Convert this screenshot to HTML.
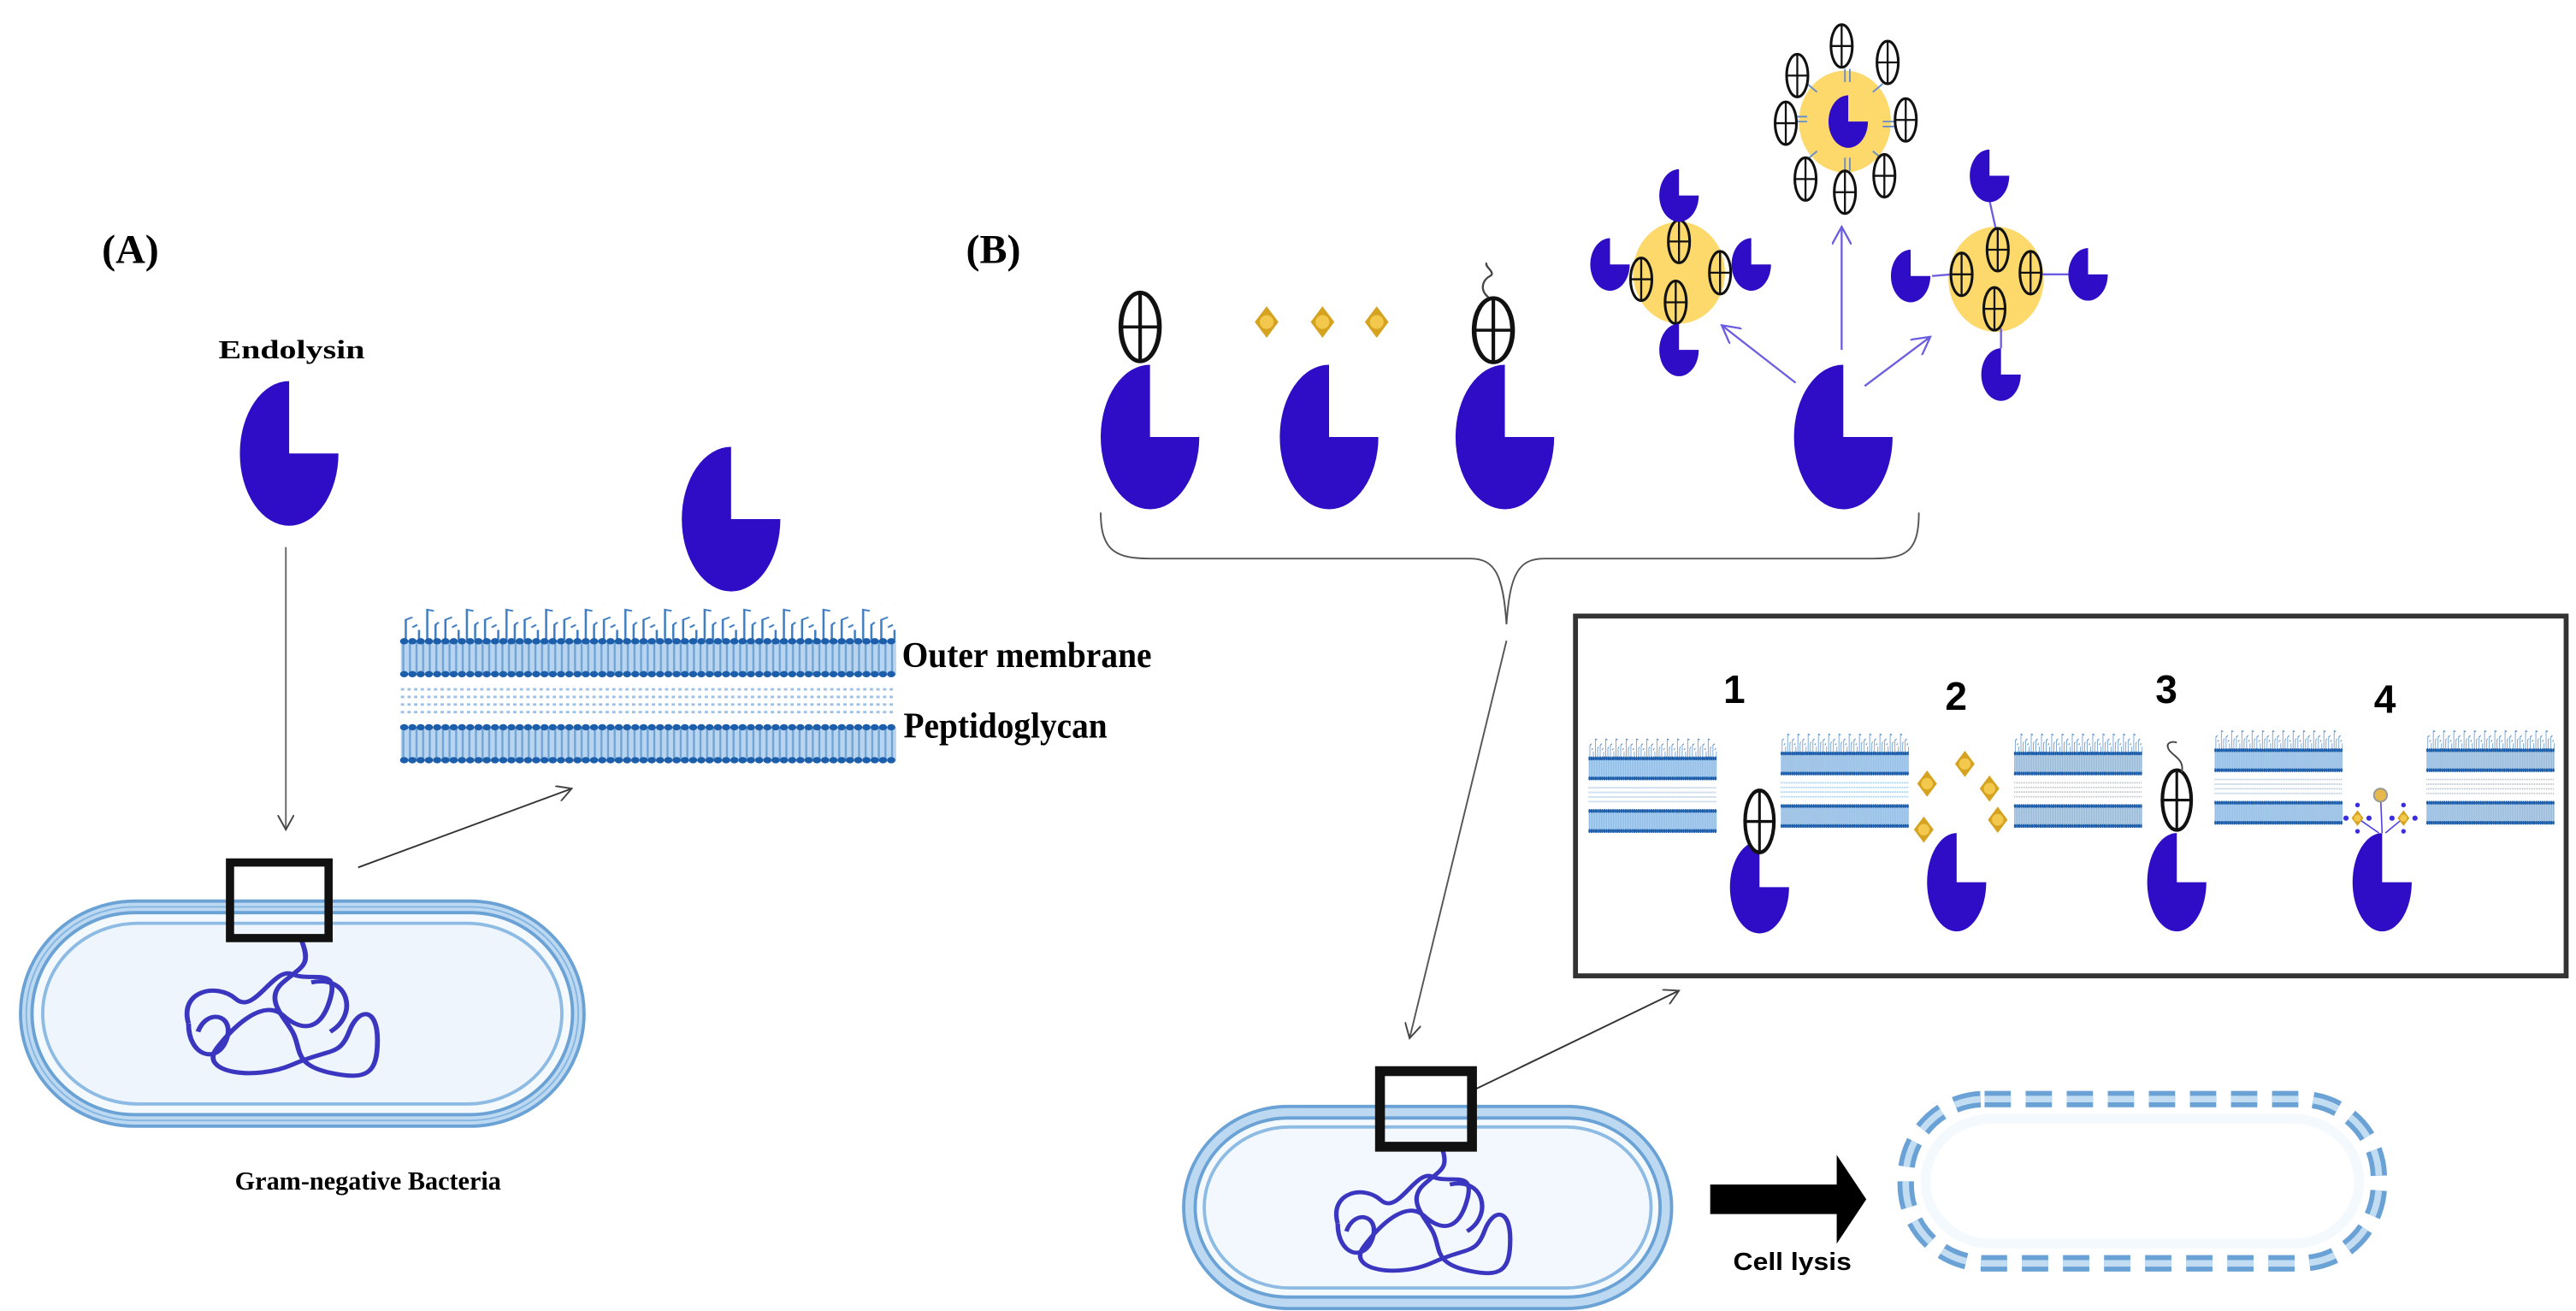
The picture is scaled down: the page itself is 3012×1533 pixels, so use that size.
<!DOCTYPE html>
<html><head><meta charset="utf-8"><style>
html,body{margin:0;padding:0;background:#fff;overflow:hidden}
svg{display:block}
</style></head><body>
<svg width="3012" height="1533" viewBox="0 0 1568 798" preserveAspectRatio="none" xmlns="http://www.w3.org/2000/svg">
<defs>
<pattern id="stripe" width="4" height="40" patternUnits="userSpaceOnUse"><rect width="4" height="40" fill="#b9d4ee"/><line x1="1.5" y1="0" x2="1.5" y2="40" stroke="#6ea3d6" stroke-width="1.2"/></pattern>
<pattern id="spk" width="24" height="28" patternUnits="userSpaceOnUse">
<g stroke="#3e7cc2" stroke-width="1.3" fill="none">
<path d="M3 28V12l4-2M7 18l3-2"/><path d="M11 28V20"/><path d="M16 28V4l4 1"/><path d="M21 28V16l2-2"/></g></pattern>
<g id="mem">
<rect x="0" y="0" width="300" height="28" fill="url(#spk)"/>
<rect x="0" y="28" width="300" height="28" fill="url(#stripe)"/>
<line x1="2" y1="29" x2="300" y2="29" stroke="#1d5eab" stroke-width="5" stroke-dasharray="0 5" stroke-linecap="round"/>
<line x1="2" y1="55" x2="300" y2="55" stroke="#1d5eab" stroke-width="5" stroke-dasharray="0 5" stroke-linecap="round"/>
<g stroke="#9dc1e6" stroke-width="2" stroke-dasharray="2 2"><line x1="0" y1="67" x2="300" y2="67"/><line x1="0" y1="73" x2="300" y2="73"/><line x1="0" y1="79" x2="300" y2="79"/><line x1="0" y1="85" x2="300" y2="85"/></g>
<rect x="0" y="97" width="300" height="27" fill="url(#stripe)"/>
<line x1="2" y1="97" x2="300" y2="97" stroke="#1d5eab" stroke-width="5" stroke-dasharray="0 5" stroke-linecap="round"/>
<line x1="2" y1="123" x2="300" y2="123" stroke="#1d5eab" stroke-width="5" stroke-dasharray="0 5" stroke-linecap="round"/>
</g>
<g id="ov"><ellipse cx="0" cy="0" rx="6.5" ry="13" fill="none" stroke="#111" stroke-width="1.6"/><line x1="-6.5" y1="0" x2="6.5" y2="0" stroke="#111" stroke-width="1.2"/><line x1="0" y1="-13" x2="0" y2="13" stroke="#111" stroke-width="1.2"/></g>
<g id="ovw"><ellipse cx="0" cy="0" rx="6.5" ry="13" fill="#fff" stroke="#111" stroke-width="1.6"/><line x1="-6.5" y1="0" x2="6.5" y2="0" stroke="#111" stroke-width="1.2"/><line x1="0" y1="-13" x2="0" y2="13" stroke="#111" stroke-width="1.2"/></g>
<path id="pm" d="M0 0V-44A30 44 0 1 0 30 0Z" fill="#2f0dc6"/>
<path id="pms" d="M0 0V-16A12 16 0 1 0 12 0Z" fill="#2f0dc6"/>
<g id="dia"><path d="M0 -8L6 0L0 8L-6 0Z" fill="#d6a320"/><circle r="3.5" fill="#f2c94c"/></g>
<marker id="ah" markerWidth="10" markerHeight="10" refX="9" refY="5" orient="auto" markerUnits="userSpaceOnUse"><path d="M0 0L9 5L0 10" fill="none" stroke="#444" stroke-width="1"/></marker>
<marker id="ahb" markerWidth="12" markerHeight="12" refX="11" refY="6" orient="auto" markerUnits="userSpaceOnUse"><path d="M0 0L11 6L0 12" fill="none" stroke="#6a5de0" stroke-width="1.2"/></marker>
<g id="dna" fill="none" stroke="#3a36c0" stroke-width="2.6">
<path d="M-55 5C-60 -15 -40 -20 -30 -10S-10 -30 0 -25 25 -30 20 -10 5 10 -5 0 -30 5 -40 20 -20 40 0 30 25 25 30 10 45 -5 45 15 40 40 20 35 5 20 0 10 -15 -10 -5 -20 10 -30 5 -45"/>
<path d="M-55 5C-55 25 -40 30 -35 15S-45 -5 -50 10"/>
<path d="M10 -20C30 -25 35 0 20 10"/>
</g>
</defs>

<!-- Panel A -->
<text x="62" y="160" font-family="Liberation Serif, serif" font-weight="bold" font-size="25">(A)</text>
<text x="133" y="218" font-family="Liberation Serif, serif" font-weight="bold" font-size="16" textLength="89" lengthAdjust="spacingAndGlyphs">Endolysin</text>
<use href="#pm" x="176" y="276"/>
<line x1="174" y1="333" x2="174" y2="505" stroke="#666" stroke-width="1" marker-end="url(#ah)"/>
<use href="#pm" x="445" y="316"/>
<use href="#mem" transform="translate(244,368) scale(1.005,0.77)"/>
<text x="549" y="406" font-family="Liberation Serif, serif" font-weight="bold" font-size="22" textLength="152" lengthAdjust="spacingAndGlyphs">Outer membrane</text>
<text x="550" y="449" font-family="Liberation Serif, serif" font-weight="bold" font-size="22" textLength="124" lengthAdjust="spacingAndGlyphs">Peptidoglycan</text>
<line x1="218" y1="528" x2="348" y2="480" stroke="#333" stroke-width="1" marker-end="url(#ah)"/>
<rect x="16" y="552" width="336" height="130" rx="66" fill="#f4f9fe" stroke="#6aa2d6" stroke-width="9"/>
<rect x="16" y="552" width="336" height="130" rx="66" fill="none" stroke="#bdd9f1" stroke-width="5"/>
<rect x="16" y="552" width="336" height="130" rx="66" fill="none" stroke="#85b6e2" stroke-width="1"/>
<rect x="26" y="562" width="316" height="110" rx="58" fill="#eef5fc" stroke="#8dbbe4" stroke-width="2"/>
<use href="#dna" transform="translate(178,618) scale(1.15,1)"/>
<rect x="140" y="525" width="60" height="46" fill="none" stroke="#111" stroke-width="5"/>
<text x="143" y="724" font-family="Liberation Serif, serif" font-weight="bold" font-size="16" textLength="162" lengthAdjust="spacingAndGlyphs">Gram-negative Bacteria</text>

<!-- Panel B -->
<text x="588" y="160" font-family="Liberation Serif, serif" font-weight="bold" font-size="25">(B)</text>
<use href="#pm" x="700" y="266"/>
<use href="#ovw" transform="translate(694,199) scale(1.8,1.6)"/>
<use href="#pm" x="809" y="266"/>
<use href="#dia" transform="translate(771,196) scale(1.2)"/>
<use href="#dia" transform="translate(805,196) scale(1.2)"/>
<use href="#dia" transform="translate(838,196) scale(1.2)"/>
<use href="#pm" x="916" y="266"/>
<use href="#ovw" transform="translate(909,201) scale(1.8,1.5)"/>
<path d="M906 181C900 176 903 170 907 168S903 162 905 160" fill="none" stroke="#444" stroke-width="1.2"/>
<use href="#pm" x="1122" y="266"/>

<!-- top cluster -->
<ellipse cx="1123" cy="74" rx="28" ry="31" fill="#fcd96a"/>
<use href="#pms" x="1125" y="74"/>
<g stroke="#6a8fc8" stroke-width="1"><path d="M1123 50v-8M1126 50v-8M1146 74h8M1146 77h8M1100 74h-8M1100 71h-8M1123 96v8M1126 96v8M1106 56l-6-5M1140 56l6-5M1106 92l-6 5M1140 92l6 5"/></g>
<use href="#ovw" x="1121" y="28"/><use href="#ovw" x="1149" y="38"/><use href="#ovw" x="1160" y="73"/><use href="#ovw" x="1147" y="107"/>
<use href="#ovw" x="1123" y="117"/><use href="#ovw" x="1099" y="109"/><use href="#ovw" x="1087" y="75"/><use href="#ovw" x="1094" y="46"/>
<!-- left cluster -->
<ellipse cx="1022" cy="166" rx="28" ry="31" fill="#fcd96a"/>
<use href="#ov" x="1022" y="147"/><use href="#ov" x="999" y="170"/><use href="#ov" x="1047" y="166"/><use href="#ov" x="1020" y="184"/>
<use href="#pms" x="1022" y="119"/><use href="#pms" x="980" y="161"/><use href="#pms" x="1066" y="161"/><use href="#pms" x="1022" y="213"/>
<!-- right cluster -->
<ellipse cx="1215" cy="170" rx="29" ry="32" fill="#fcd96a"/>
<g stroke="#6a5de0" stroke-width="1.2"><line x1="1211" y1="122" x2="1215" y2="140"/><line x1="1176" y1="168" x2="1188" y2="167"/><line x1="1243" y1="167" x2="1259" y2="167"/><line x1="1218" y1="200" x2="1218" y2="212"/></g>
<use href="#ov" x="1216" y="152"/><use href="#ov" x="1194" y="167"/><use href="#ov" x="1236" y="166"/><use href="#ov" x="1214" y="188"/>
<use href="#pms" x="1211" y="107"/><use href="#pms" x="1163" y="168"/><use href="#pms" x="1271" y="167"/><use href="#pms" x="1218" y="228"/>
<!-- arrows -->
<line x1="1121" y1="213" x2="1121" y2="138" stroke="#6a5de0" stroke-width="1.2" marker-end="url(#ahb)"/>
<line x1="1093" y1="233" x2="1048" y2="198" stroke="#6a5de0" stroke-width="1.2" marker-end="url(#ahb)"/>
<line x1="1135" y1="235" x2="1175" y2="205" stroke="#6a5de0" stroke-width="1.2" marker-end="url(#ahb)"/>

<!-- brace -->
<path d="M670 312C670 336 680 340 700 340H895C910 340 915 350 917 380C919 350 924 340 940 340H1140C1160 340 1168 336 1168 312" fill="none" stroke="#555" stroke-width="1"/>
<line x1="917" y1="390" x2="858" y2="632" stroke="#555" stroke-width="1" marker-end="url(#ah)"/>

<!-- box -->
<rect x="959" y="375" width="603" height="219" fill="#fff" stroke="#333" stroke-width="3"/>
<g font-family="Liberation Sans, sans-serif" font-weight="bold" font-size="24">
<text x="1049" y="428">1</text><text x="1184" y="432">2</text><text x="1312" y="428">3</text><text x="1445" y="434">4</text></g>
<use href="#mem" transform="translate(967,448) scale(0.26,0.47)"/>
<use href="#mem" transform="translate(1084,445) scale(0.26,0.47)"/>
<use href="#mem" transform="translate(1226,445) scale(0.26,0.47)"/>
<use href="#mem" transform="translate(1348,443) scale(0.26,0.47)"/>
<use href="#mem" transform="translate(1477,443) scale(0.26,0.47)"/>
<use href="#pm" transform="translate(1071,540) scale(0.6,0.64)"/>
<use href="#ovw" transform="translate(1071,500) scale(1.35,1.45)"/>
<use href="#pm" transform="translate(1191,537) scale(0.6,0.68)"/>
<use href="#dia" x="1173" y="477"/><use href="#dia" x="1196" y="465"/><use href="#dia" x="1211" y="480"/><use href="#dia" x="1171" y="505"/><use href="#dia" x="1216" y="499"/>
<use href="#pm" transform="translate(1325,537) scale(0.6,0.68)"/>
<use href="#ovw" transform="translate(1325,487) scale(1.35,1.4)"/>
<path d="M1328 470C1330 462 1322 460 1320 456S1322 451 1325 452" fill="none" stroke="#444" stroke-width="1"/>
<use href="#pm" transform="translate(1450,537) scale(0.6,0.68)"/>
<g stroke="#4a3de0" stroke-width="0.8"><line x1="1449" y1="484" x2="1450" y2="507"/><line x1="1435" y1="498" x2="1448" y2="507"/><line x1="1463" y1="498" x2="1452" y2="507"/></g>
<circle cx="1449" cy="484" r="4" fill="#e7b84a" stroke="#999" stroke-width="1"/>
<use href="#dia" transform="translate(1435,498) scale(0.6)"/><use href="#dia" transform="translate(1463,498) scale(0.6)"/>
<g fill="#3a2de0"><circle cx="1428" cy="498" r="1.6"/><circle cx="1442" cy="498" r="1.6"/><circle cx="1456" cy="498" r="1.6"/><circle cx="1470" cy="498" r="1.6"/><circle cx="1435" cy="490" r="1.4"/><circle cx="1463" cy="490" r="1.4"/><circle cx="1435" cy="506" r="1.4"/><circle cx="1463" cy="506" r="1.4"/></g>

<!-- bacterium B -->
<line x1="898" y1="663" x2="1022" y2="603" stroke="#333" stroke-width="1" marker-end="url(#ah)"/>
<rect x="724" y="677" width="290" height="116" rx="60" fill="#f4f9fe" stroke="#6aa2d6" stroke-width="9"/>
<rect x="724" y="677" width="290" height="116" rx="60" fill="none" stroke="#bdd9f1" stroke-width="5"/>
<rect x="733" y="686" width="272" height="98" rx="52" fill="#f2f8fe" stroke="#8dbbe4" stroke-width="2"/>
<use href="#dna" transform="translate(872,740) scale(1.05,0.95)"/>
<rect x="840" y="652" width="56" height="46" fill="none" stroke="#111" stroke-width="6"/>
<path d="M1041 721H1118V703L1136 730L1118 757V739H1041Z" fill="#000"/>
<text x="1055" y="773" font-family="Liberation Sans, sans-serif" font-weight="bold" font-size="15" textLength="72" lengthAdjust="spacingAndGlyphs">Cell lysis</text>
<!-- broken cell -->
<rect x="1160" y="669" width="288" height="100" rx="48" fill="none" stroke="#6aa2d6" stroke-width="10" stroke-dasharray="16 9"/>
<rect x="1160" y="669" width="288" height="100" rx="48" fill="none" stroke="#c2dcf2" stroke-width="4" stroke-dasharray="16 9"/>
<rect x="1172" y="681" width="264" height="76" rx="40" fill="#fff" stroke="#f4f9fe" stroke-width="6"/>
</svg>
</body></html>
